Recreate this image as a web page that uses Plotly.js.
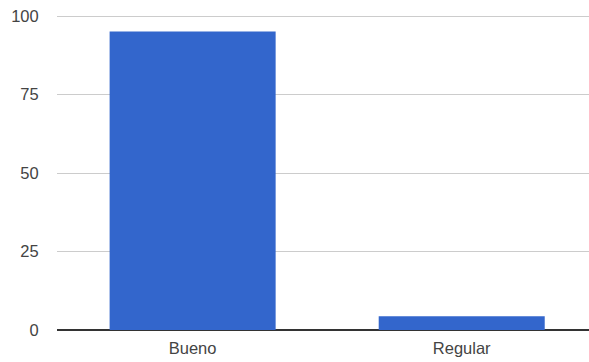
<!DOCTYPE html>
<html>
<head>
<meta charset="utf-8">
<script src="https://cdn.plot.ly/plotly-3.0.1.min.js"></script>
<style>html,body{margin:0;padding:0;background:#fff;}#chart{width:589px;height:362px;}</style>
</head>
<body>
<div id="chart"></div>
<script>
var categories = ["Bueno", "Regular"];
var values = [95.1, 4.4];
var yTicks = [0, 25, 50, 75, 100];

var trace = {
  type: "bar",
  x: categories,
  y: values,
  width: 0.617,
  marker: {color: "#3366cc", line: {width: 0}},
  hoverinfo: "x+y"
};

var layout = {
  width: 589,
  height: 362,
  margin: {l: 57, r: 0, t: 14, b: 32, pad: 0},
  paper_bgcolor: "#ffffff",
  plot_bgcolor: "#ffffff",
  showlegend: false,
  font: {family: "Liberation Sans, Arial, sans-serif", color: "#444444"},
  xaxis: {
    type: "category",
    range: [-0.504, 1.473],
    showgrid: false,
    zeroline: false,
    showline: false,
    ticks: "outside",
    ticklen: 3,
    tickcolor: "rgba(0,0,0,0)",
    tickfont: {size: 16.5, color: "#444444"}
  },
  yaxis: {
    range: [0, 100.64],
    tickvals: yTicks,
    ticktext: yTicks.map(String),
    showgrid: true,
    gridcolor: "#cccccc",
    gridwidth: 1,
    zeroline: true,
    zerolinecolor: "#333333",
    zerolinewidth: 1.5,
    showline: false,
    ticks: "outside",
    ticklen: 14,
    tickcolor: "rgba(0,0,0,0)",
    tickfont: {size: 16.5, color: "#444444"}
  }
};

Plotly.newPlot("chart", [trace], layout, {displayModeBar: false, staticPlot: true});
</script>
</body>
</html>
